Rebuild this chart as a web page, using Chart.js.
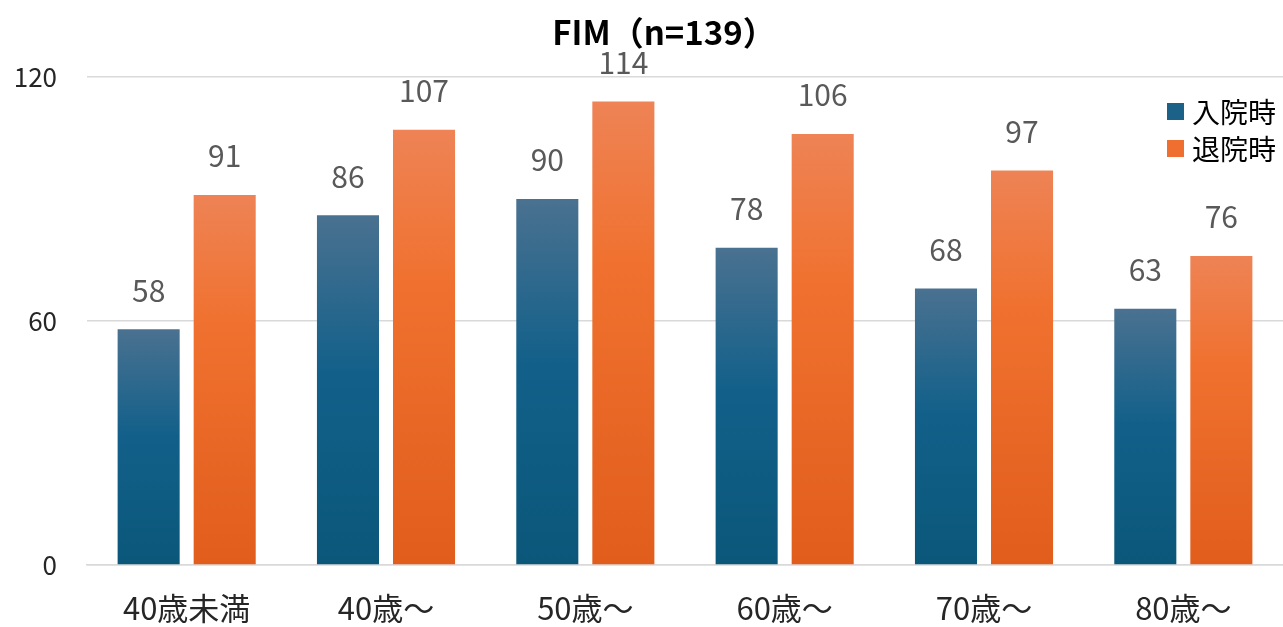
<!DOCTYPE html>
<html>
<head>
<meta charset="utf-8">
<script src="https://cdn.jsdelivr.net/npm/chart.js@4/dist/chart.umd.min.js"></script>
<style>
  html, body { margin: 0; padding: 0; background: #ffffff; }
  #wrap { width: 1283px; height: 627px; position: relative; }
</style>
</head>
<body>
<div id="wrap"><canvas id="c"></canvas></div>
<script>
// FIM scores by age group, on admission and at discharge
const categories = ['40歳未満', '40歳〜', '50歳〜', '60歳〜', '70歳〜', '80歳〜'];
const admission = [58, 86, 90, 78, 68, 63];
const discharge = [91, 107, 114, 106, 97, 76];
const seriesNames = ['入院時', '退院時'];
const yTicks = [0, 60, 120];
const chartTitle = 'FIM（n=139）';

const JP = '"Noto Sans CJK JP", "Noto Sans", sans-serif';

// vertical gradients, laid over each bar from its top to the baseline
const blueStops = [[0, '#4a7190'], [0.45, '#12608a'], [1, '#0b577a']];
const orangeStops = [[0, '#ee8355'], [0.35, '#f0712f'], [1, '#e15d1c']];

function barFill(stops) {
  return (ctx) => {
    const chart = ctx.chart;
    if (!chart.chartArea || ctx.type !== 'data') return stops[1][1];
    const y = chart.scales.y;
    const top = y.getPixelForValue(ctx.raw);
    const base = y.getPixelForValue(0);
    const g = chart.ctx.createLinearGradient(0, top, 0, base);
    stops.forEach(([o, c]) => g.addColorStop(o, c));
    return g;
  };
}

// numbers above every bar
const valueLabels = {
  id: 'valueLabels',
  afterDatasetsDraw(chart) {
    const ctx = chart.ctx;
    ctx.save();
    ctx.font = '30px ' + JP;
    ctx.fillStyle = '#595959';
    ctx.textAlign = 'center';
    ctx.textBaseline = 'middle';
    chart.data.datasets.forEach((ds, di) => {
      chart.getDatasetMeta(di).data.forEach((bar, i) => {
        ctx.fillText(String(ds.data[i]), bar.x, bar.y - 39);
      });
    });
    ctx.restore();
  }
};

// title and the legend in the top-right corner
const headerAndLegend = {
  id: 'headerAndLegend',
  afterDraw(chart) {
    const ctx = chart.ctx;
    ctx.save();
    ctx.font = 'bold 33px ' + JP;
    ctx.fillStyle = '#000000';
    ctx.textAlign = 'center';
    ctx.textBaseline = 'middle';
    ctx.fillText(chartTitle, 664, 32);

    const swatches = [
      ['#1c6288', 103],
      ['#ef6f30', 140]
    ];
    ctx.font = '28px ' + JP;
    ctx.textAlign = 'left';
    swatches.forEach(([color, top], i) => {
      ctx.fillStyle = color;
      ctx.fillRect(1167, top, 17, 17);
      ctx.fillStyle = '#000000';
      ctx.fillText(seriesNames[i], 1192, top + 9);
    });
    ctx.restore();
  }
};

new Chart(document.getElementById('c'), {
  type: 'bar',
  data: {
    labels: categories,
    datasets: [
      { label: seriesNames[0], data: admission, backgroundColor: barFill(blueStops), borderWidth: 0 },
      { label: seriesNames[1], data: discharge, backgroundColor: barFill(orangeStops), borderWidth: 0 }
    ]
  },
  options: {
    responsive: true,
    maintainAspectRatio: false,
    animation: false,
    devicePixelRatio: 1,
    categoryPercentage: 0.763,
    barPercentage: 0.816,
    layout: { padding: { top: 77, right: 0, bottom: 0, left: 0 } },
    plugins: {
      legend: { display: false },
      title: { display: false },
      tooltip: { enabled: false }
    },
    scales: {
      x: {
        grid: { display: false },
        border: { display: true, color: '#d9d9d9', width: 1.5 },
        ticks: { color: '#262626', font: { family: JP, size: 31 }, padding: 17 },
        afterFit(s) { s.height = 62; }
      },
      y: {
        min: 0,
        max: 120,
        afterBuildTicks(s) { s.ticks = yTicks.map(v => ({ value: v })); },
        grid: { color: '#d9d9d9', lineWidth: 1.5, drawTicks: false },
        border: { display: false },
        ticks: { color: '#262626', font: { family: JP, size: 26 }, padding: 30 },
        afterFit(s) { s.width = 87; }
      }
    }
  },
  plugins: [valueLabels, headerAndLegend]
});
</script>
</body>
</html>
